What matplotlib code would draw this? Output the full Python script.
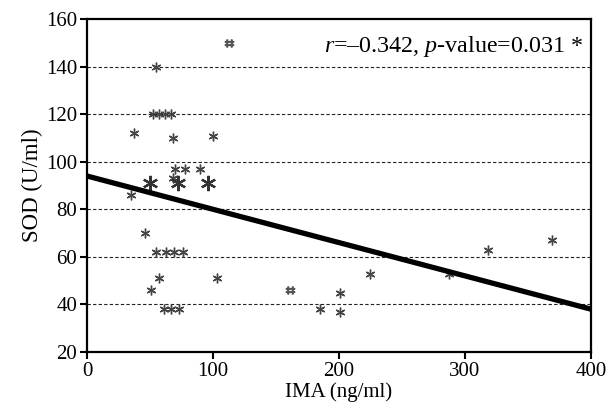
import matplotlib
matplotlib.use('Agg')
import matplotlib.pyplot as plt
import numpy as np

plt.rcParams['font.family'] = ['Liberation Serif', 'DejaVu Serif']
plt.rcParams['mathtext.fontset'] = 'custom'
plt.rcParams['mathtext.rm'] = 'Liberation Serif'
plt.rcParams['mathtext.it'] = 'Liberation Serif:italic'

# IMA (ng/ml) vs SOD (U/ml)
ima = [55, 52, 57, 62, 67, 37, 68, 100, 70, 78, 90, 68, 35,
       46, 55, 63, 69, 76, 57, 51, 103, 61, 67, 73,
       185, 201, 201, 225, 287, 318, 369]
sod = [140, 120, 120, 120, 120, 112, 110, 111, 97, 97, 97, 93, 86,
       70, 62, 62, 62, 62, 51, 46, 51, 38, 38, 38,
       38, 45, 37, 53, 53, 63, 67]

# overlapping points drawn bigger in the original
big_ima = [50, 72, 96]
big_sod = [91, 91, 91]

# double marks
dbl_ima = [113, 161]
dbl_sod = [150, 46]

# regression line ends
fit_x = [0, 400]
fit_y = [94, 38]

fig = plt.figure(figsize=(6.1, 4.17), dpi=100)
ax = fig.add_axes([0.1426, 0.1559, 0.8262, 0.7985])

for yv in [40, 60, 80, 100, 120, 140]:
    ax.axhline(yv, color='#222222', lw=0.8, dashes=(3, 2), zorder=0)

ax.plot(ima, sod, ls='none', marker=(6, 2, 0), ms=7, mew=1.0, color='#444444')
ax.plot(big_ima, big_sod, ls='none', marker=(6, 2, 0), ms=11, mew=1.6, color='#333333')
ax.plot(dbl_ima, dbl_sod, ls='none', marker='$‡‡$', ms=6, color='#555555')
ax.plot(fit_x, fit_y, color='black', lw=3.8, solid_capstyle='butt', zorder=3)

ax.set_xlim(0, 400)
ax.set_ylim(20, 160)
ax.set_xticks([0, 100, 200, 300, 400])
ax.set_yticks(np.arange(20, 161, 20))
ax.tick_params(direction='out', length=5, width=1.5, labelsize=15, pad=2)
for s in ax.spines.values():
    s.set_linewidth(1.6)

ax.set_xlabel('IMA (ng/ml)', fontsize=15, labelpad=1)
ax.set_ylabel('SOD (U/ml)', fontsize=16.5, labelpad=2)

ax.text(0.985, 0.955, r'$r$=–0.342, $p$-value=0.031 *', transform=ax.transAxes,
        ha='right', va='top', fontsize=17.3)

fig.savefig('out.png', dpi=100)
